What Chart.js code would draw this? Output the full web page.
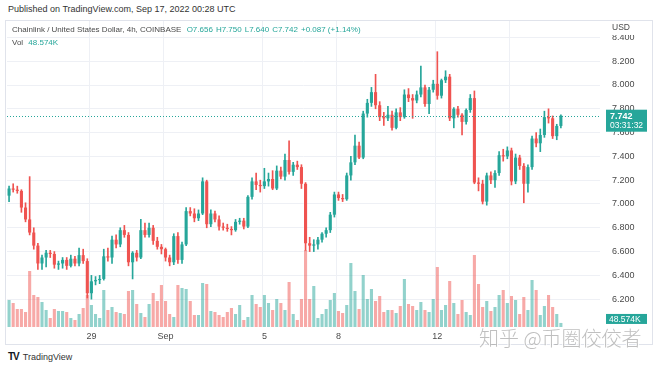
<!DOCTYPE html>
<html>
<head>
<meta charset="utf-8">
<script src="https://cdn.jsdelivr.net/npm/chart.js@4.4.0/dist/chart.umd.min.js"></script>
<style>
  body { margin: 0; background: #fff; font-family: "Liberation Sans", Arial, sans-serif; }
  #wrap { position: relative; width: 660px; height: 370px; overflow: hidden; background: #fff; }
  #pub { position: absolute; left: 8px; top: 4px; font-size: 9px; color: #333; white-space: nowrap; }
  #box { position: absolute; left: 5px; top: 20px; width: 648px; height: 325px; border: 1px solid #e0e3eb; box-sizing: border-box; }
  #chart { position: absolute; left: 7px; top: 21px; }
  #legend { position: absolute; left: 12px; top: 23px; font-size: 8px; color: #4a4a4a; line-height: 13px; white-space: nowrap; }
  #legend .v { color: #26a69a; margin-left: 3px; }
  #logo { position: absolute; left: 8px; top: 351px; font-size: 9px; color: #333; white-space: nowrap; }
  #logo b { font-size: 10px; font-weight: 900; letter-spacing: -1px; margin-right: 4px; color: #131722; }
  #mark { position: absolute; left: 479px; top: 323px; font-family: "Noto Sans CJK SC", sans-serif; font-weight: 300; font-size: 20px; color: rgba(170,170,170,0.75); text-shadow: 1px 1px 0 #fff, -1px -1px 0 #fff; white-space: nowrap; }
</style>
</head>
<body>
<div id="wrap">
  <div id="pub">Published on TradingView.com, Sep 17, 2022 00:28 UTC</div>
  <div id="box"></div>
  <canvas id="chart" width="646" height="324"></canvas>
  <div id="legend">
    <div>Chainlink / United States Dollar, 4h, COINBASE <span class="v">O7.656</span><span class="v">H7.750</span><span class="v">L7.640</span><span class="v">C7.742</span><span class="v">+0.087 (+1.14%)</span></div>
    <div>Vol <span class="v">48.574K</span></div>
  </div>
  <div id="logo"><b>TV</b>TradingView</div>
  <div id="mark">知乎 @币圈佼佼者</div>
</div>
<script>
// 4h candles, Aug 25 16:00 -> Sep 17 00:00
var opens = [7.07,7.13,7.12,7.11,6.97,6.87,6.76,6.65,6.50,6.55,
  6.59,6.58,6.49,6.50,6.53,6.48,6.54,6.50,6.57,6.52,
  6.25,6.35,6.36,6.37,6.56,6.55,6.70,6.66,6.78,6.74,
  6.51,6.59,6.55,6.78,6.74,6.80,6.69,6.64,6.62,6.55,
  6.51,6.73,6.53,6.66,6.94,6.92,6.88,6.92,7.19,6.83,
  6.92,6.87,6.81,6.80,6.79,6.78,6.85,6.86,6.81,7.06,
  7.19,7.16,7.15,7.19,7.21,7.13,7.28,7.23,7.37,7.27,
  7.33,7.31,7.17,6.67,6.65,6.66,6.70,6.75,6.78,6.91,
  7.08,7.05,7.04,7.24,7.35,7.49,7.39,7.76,7.85,7.94,
  7.83,7.73,7.72,7.75,7.64,7.77,7.73,7.92,7.89,7.87,
  7.92,7.98,7.84,7.96,8.01,7.91,8.04,8.07,7.72,7.80,
  7.75,7.69,7.79,7.89,7.18,7.17,7.02,7.24,7.20,7.26,
  7.41,7.40,7.45,7.19,7.39,7.32,7.17,7.31,7.55,7.51,
  7.58,7.73,7.72,7.57,7.656]
var highs = [7.15,7.17,7.15,7.12,7.01,7.23,6.80,6.67,6.57,6.61,
  6.61,6.60,6.52,6.55,6.55,6.57,6.56,6.63,6.62,6.54,
  6.40,6.39,6.40,6.62,6.63,6.73,6.74,6.80,6.82,6.76,
  6.60,6.61,6.87,6.84,6.84,6.82,6.72,6.66,6.63,6.57,
  6.75,6.76,6.68,6.97,6.97,6.96,6.95,7.22,7.20,6.95,
  6.94,6.90,6.84,6.83,6.81,6.87,6.88,6.88,7.07,7.22,
  7.26,7.20,7.30,7.26,7.28,7.32,7.31,7.42,7.53,7.35,
  7.36,7.33,7.18,6.72,6.70,6.72,6.76,6.80,6.93,7.10,
  7.10,7.08,7.26,7.40,7.58,7.52,7.78,7.88,7.98,8.09,
  7.86,7.77,7.82,7.78,7.80,7.81,7.96,7.97,7.92,7.95,
  8.16,8.00,7.98,8.04,8.28,8.05,8.12,8.09,7.81,7.82,
  7.76,7.80,7.92,7.95,7.22,7.20,7.26,7.27,7.28,7.44,
  7.46,7.48,7.47,7.42,7.41,7.34,7.33,7.57,7.60,7.63,
  7.78,7.80,7.74,7.67,7.750]
var lows = [7.02,7.10,7.09,6.93,6.85,6.74,6.62,6.45,6.45,6.47,
  6.55,6.46,6.45,6.46,6.45,6.47,6.48,6.48,6.50,6.21,
  6.20,6.32,6.33,6.36,6.52,6.50,6.63,6.64,6.72,6.48,
  6.37,6.52,6.54,6.72,6.72,6.66,6.62,6.58,6.52,6.48,
  6.49,6.50,6.50,6.65,6.90,6.85,6.86,6.91,6.80,6.81,
  6.85,6.78,6.78,6.77,6.74,6.77,6.83,6.79,6.80,7.04,
  7.12,7.10,7.13,7.15,7.12,7.12,7.21,7.20,7.25,7.24,
  7.29,7.13,6.61,6.60,6.60,6.62,6.68,6.72,6.76,6.89,
  7.03,7.02,7.03,7.20,7.33,7.38,7.38,7.73,7.82,7.80,
  7.70,7.66,7.70,7.62,7.63,7.70,7.72,7.86,7.72,7.85,
  7.90,7.82,7.76,7.94,7.88,7.89,8.02,7.70,7.64,7.73,
  7.58,7.67,7.77,7.17,7.11,7.00,6.99,7.17,7.14,7.24,
  7.36,7.38,7.16,7.17,7.29,7.01,7.10,7.29,7.48,7.44,
  7.56,7.68,7.55,7.54,7.640]
var closes = [7.13,7.12,7.11,6.97,6.87,6.76,6.65,6.50,6.55,6.59,
  6.58,6.49,6.50,6.53,6.48,6.54,6.50,6.57,6.52,6.25,
  6.35,6.36,6.37,6.56,6.55,6.70,6.66,6.78,6.74,6.51,
  6.59,6.55,6.78,6.74,6.80,6.69,6.64,6.62,6.55,6.51,
  6.73,6.53,6.66,6.94,6.92,6.88,6.92,7.19,6.83,6.92,
  6.87,6.81,6.80,6.79,6.78,6.85,6.86,6.81,7.06,7.19,
  7.16,7.15,7.19,7.21,7.13,7.28,7.23,7.37,7.27,7.33,
  7.31,7.17,6.67,6.65,6.66,6.70,6.75,6.78,6.91,7.08,
  7.05,7.04,7.24,7.35,7.49,7.39,7.76,7.85,7.94,7.83,
  7.73,7.72,7.75,7.64,7.77,7.73,7.92,7.89,7.87,7.92,
  7.98,7.84,7.96,8.01,7.91,8.04,8.07,7.72,7.80,7.75,
  7.69,7.79,7.89,7.18,7.17,7.02,7.24,7.20,7.26,7.41,
  7.40,7.45,7.19,7.39,7.32,7.17,7.31,7.55,7.51,7.58,
  7.73,7.72,7.57,7.656,7.742]
// volume in K
var volume = [324,288,216,216,180,672,384,360,300,204,
  108,216,192,192,180,108,84,156,228,384,
  264,156,108,444,204,
  240,180,168,156,432,444,276,168,120,276,408,312,504,312,156,120,504,
  468,456,312,144,144,528,516,192,180,144,120,180,228,156,264,84,120,384,276,240,384,288,204,336,288,204,540,156,84,336,924,336,492,108,156,216,324,408,192,168,264,768,432,216,
  624,336,456,312,372,180,204,204,168,252,576,276,252,204,300,204,180,336,720,204,264,552,288,156,324,180,144,864,516,240,312,192,240,384,444,288,372,324,156,360,204,564,444,144,252,384,240,156,
  48.574]

var tickIdx = [20, 38, 62, 80, 104]
var tickText = ['29', 'Sep', '5', '8', '12']
var gridIdx = [20, 38, 62, 80, 104, 122]
var lastPrice = 7.742
var lastVol = '48.574K'
var countdown = '03:31:32'
var slotCount = 144   // candles + empty space on the right

var UP = '#26a69a', DOWN = '#ef5350'
var UP_V = 'rgba(38,166,154,0.5)', DOWN_V = 'rgba(239,83,80,0.5)'

var slots = []
for (var i = 0; i < slotCount; i++) slots.push(String(i))

var bodies = opens.map(function(o, i){ return [o, closes[i]] })
var wicks = lows.map(function(l, i){ return [l, highs[i]] })
var candleColors = opens.map(function(o, i){ return closes[i] >= o ? UP : DOWN })
var volColors = opens.map(function(o, i){ return closes[i] >= o ? UP_V : DOWN_V })

var overlay = {
  id: 'overlay',
  afterDatasetsDraw: function(chart){
    var c = chart.ctx, a = chart.chartArea
    var y = Math.round(chart.scales.y.getPixelForValue(lastPrice)) + 0.5
    c.save()
    c.strokeStyle = UP
    c.lineWidth = 1
    c.setLineDash([1, 2])
    c.beginPath(); c.moveTo(a.left, y); c.lineTo(a.right, y); c.stroke()
    c.restore()
  },
  afterDraw: function(chart){
    var c = chart.ctx, a = chart.chartArea
    var y = chart.scales.y.getPixelForValue(lastPrice)
    var x0 = a.right + 6
    c.save()
    // USD label covers the top half of the first tick label
    c.fillStyle = '#fff'
    c.fillRect(a.right + 1, 0, 50, 14)
    c.fillStyle = '#4a4a4a'
    c.font = '8.5px "Liberation Sans", Arial'
    c.textBaseline = 'middle'
    c.fillText('USD', x0 + 6, 7)
    // last price badge
    c.fillStyle = UP
    c.fillRect(x0, y - 6, 41, 22)
    c.fillStyle = '#fff'
    c.font = 'bold 9px "Liberation Sans", Arial'
    c.fillText(lastPrice.toFixed(3), x0 + 4, y + 0.5)
    c.font = '8.5px "Liberation Sans", Arial'
    c.fillText(countdown, x0 + 4, y + 10)
    // volume badge
    var vy = chart.scales.yv.getPixelForValue(volume[volume.length - 1])
    c.fillStyle = UP
    c.fillRect(x0, vy - 9, 41, 10)
    c.fillStyle = '#fff'
    c.font = '8.5px "Liberation Sans", Arial'
    c.fillText(lastVol, x0 + 3, vy - 3.5)
    c.restore()
  }
}

var ctx = document.getElementById('chart').getContext('2d')
var myChart = new Chart(ctx, {
  type: 'bar',
  plugins: [overlay],
  data: {
    labels: slots,
    datasets: [{
      label: 'body',
      data: bodies,
      backgroundColor: candleColors,
      grouped: false,
      categoryPercentage: 1,
      barPercentage: 0.75,
      minBarLength: 1,
      yAxisID: 'y'
    },
    {
      label: 'wick',
      data: wicks,
      backgroundColor: candleColors,
      grouped: false,
      barThickness: 1,
      yAxisID: 'y'
    },
    {
      label: 'vol',
      data: volume,
      backgroundColor: volColors,
      grouped: false,
      categoryPercentage: 1,
      barPercentage: 0.75,
      yAxisID: 'yv'
    }]
  },
  options: {
    responsive: false,
    maintainAspectRatio: false,
    animation: false,
    layout: { padding: 0 },
    scales: {
      x: {
        grid: {
          color: function(c){ return gridIdx.indexOf(c.index) >= 0 ? '#eef0f5' : 'rgba(0,0,0,0)' },
          drawTicks: false
        },
        border: { display: false },
        ticks: {
          autoSkip: false,
          maxRotation: 0,
          padding: 4,
          color: '#4a4a4a',
          font: { size: 9, family: '"Liberation Sans", Arial' },
          callback: function(v, i){
            var k = tickIdx.indexOf(i)
            return k >= 0 ? tickText[k] : ''
          }
        },
        afterFit: function(s){ s.height = 18; s.paddingLeft = 0; s.paddingRight = 0 }
      },
      y: {
        position: 'right',
        min: 5.966,
        max: 8.538,
        grid: {
          color: function(c){ return c.tick && c.tick.value > 6.1 ? '#eef0f5' : 'rgba(0,0,0,0)' },
          drawTicks: false
        },
        border: { display: false },
        ticks: {
          stepSize: 0.2,
          includeBounds: false,
          padding: 12,
          color: '#4a4a4a',
          font: { size: 9, family: '"Liberation Sans", Arial' },
          callback: function(v){ return v > 6.1 ? v.toFixed(3) : '' }
        },
        afterFit: function(s){ s.width = 53; s.paddingTop = 0; s.paddingBottom = 0 }
      },
      yv: {
        display: false,
        min: 0,
        max: 3672
      }
    },
    plugins: {
      legend: { display: false },
      title: { display: false },
      tooltip: { enabled: false }
    }
  }
})
</script>
</body>
</html>
